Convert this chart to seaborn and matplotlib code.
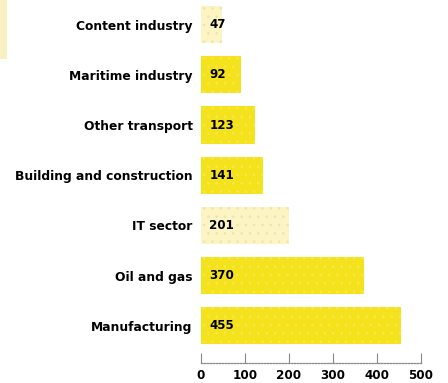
import matplotlib
matplotlib.use("Agg")
import matplotlib.pyplot as plt
import matplotlib.patches as mpatches
import seaborn as sns
import pandas as pd

# Employment by sector (bars from top to bottom)
sectors = ["Content industry", "Maritime industry", "Other transport",
           "Building and construction", "IT sector", "Oil and gas", "Manufacturing"]
values = [47, 92, 123, 141, 201, 370, 455]
pale = [True, False, False, False, True, False, False]

x_ticks = [0, 100, 200, 300, 400, 500]

BRIGHT = "#f4e21c"
PALE = "#fcf4c2"

df = pd.DataFrame({"sector": sectors, "value": values})

sns.set_theme(style="white")
plt.rcParams["font.family"] = ["DejaVu Sans"]
plt.rcParams["text.color"] = "black"
plt.rcParams["hatch.linewidth"] = 0.6

fig = plt.figure(figsize=(4.48, 3.83), dpi=100)
W, H = 448, 383
ax = fig.add_axes([201 / W, 1 - 363 / H, 220 / W, 363 / H])

colors = [PALE if p else BRIGHT for p in pale]
sns.barplot(data=df, x="value", y="sector", hue="sector", palette=colors,
            legend=False, width=0.74, ax=ax, saturation=1)

# Halftone-like dot texture on the bars
for bar, p in zip(ax.patches, pale):
    bar.set_hatch("..")
    bar.set_edgecolor("#eee4b0" if p else "#f7e94e")
    bar.set_linewidth(0)

ax.set_xlim(0, 500)
ax.set_ylim(6.74, -0.49)
ax.set_xlabel("")
ax.set_ylabel("")
ax.set_xticks(x_ticks)
ax.set_xticklabels([str(t) for t in x_ticks], fontsize=9.5, fontweight="bold",
                   fontstretch="condensed", color="black")
ax.tick_params(axis="x", direction="in", length=7, width=0.8, color="#888888",
               pad=4, bottom=True)
ax.tick_params(axis="y", length=0, pad=6)
for lbl in ax.get_yticklabels():
    lbl.set_fontsize(8.8)
    lbl.set_fontweight("heavy")
    lbl.set_color("black")

for side in ["top", "right", "left"]:
    ax.spines[side].set_visible(False)
ax.spines["bottom"].set_linestyle((0, (1.2, 1.2)))
ax.spines["bottom"].set_color("#888888")
ax.spines["bottom"].set_linewidth(0.9)

# Value labels inside the bars
for i, v in enumerate(values):
    ax.text(19, i, str(v), va="center", ha="left", fontsize=8.6,
            fontweight="heavy", color="black")

# Pale tab at the top-left corner
fig.patches.append(mpatches.Rectangle((0, 1 - 59 / H), 7 / W, 59 / H,
                                      transform=fig.transFigure,
                                      facecolor="#f8f0c2", edgecolor="none"))

fig.savefig("out.png", dpi=100)
